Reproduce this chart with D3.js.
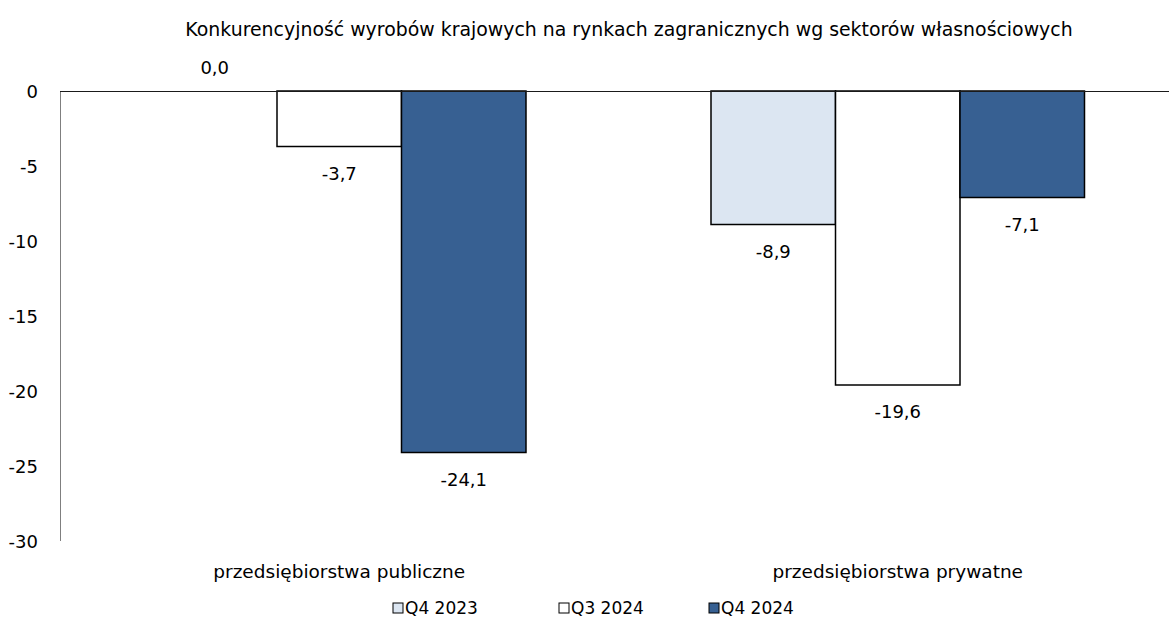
<!DOCTYPE html>
<html>
<head>
<meta charset="utf-8">
<script src="https://cdn.jsdelivr.net/npm/d3@7"></script>
<style>
  html, body { margin: 0; padding: 0; background: #fff; }
  svg { display: block; font-family: "DejaVu Sans", sans-serif; }
</style>
</head>
<body>
<svg id="chart" width="1169" height="622"></svg>
<script>
// Chart data
const title = "Konkurencyjność wyrobów krajowych na rynkach zagranicznych wg sektorów własnościowych";
const categories = ["przedsiębiorstwa publiczne", "przedsiębiorstwa prywatne"];
const seriesNames = ["Q4 2023", "Q3 2024", "Q4 2024"];
const seriesColors = ["#dce6f2", "#ffffff", "#376092"];
const q4_2023 = [0.0, -8.9];
const q3_2024 = [-3.7, -19.6];
const q4_2024 = [-24.1, -7.1];
const yTicks = [0, -5, -10, -15, -20, -25, -30];

const seriesValues = [q4_2023, q3_2024, q4_2024];

const svg = d3.select("#chart");
const fmt = v => v.toFixed(1).replace(".", ",");

const y = d3.scaleLinear().domain([-30, 0]).range([541, 91]);
const x0 = d3.scaleBand().domain(categories).range([60, 1177]).padding(0);
const x1 = d3.scaleBand().domain(seriesNames).range([0, x0.bandwidth()])
  .paddingInner(0).paddingOuter(0.743);

// Title
svg.append("text")
  .attr("x", 629).attr("y", 36)
  .attr("text-anchor", "middle")
  .attr("font-size", 18.9)
  .attr("fill", "#000")
  .text(title);

// Y axis (labels only, plus a grey spine)
const yAxis = d3.axisLeft(y).tickValues(yTicks).tickSize(0).tickPadding(0)
  .tickFormat(d => String(d));
const gy = svg.append("g").attr("transform", "translate(38,0)").call(yAxis);
gy.select(".domain").remove();
gy.selectAll("text").attr("font-size", 18).attr("fill", "#000")
  .attr("font-family", "DejaVu Sans, sans-serif").attr("dy", "0.35em");

svg.append("line")
  .attr("x1", 60.5).attr("x2", 60.5)
  .attr("y1", y(0)).attr("y2", y(-30))
  .attr("stroke", "#7f7f7f").attr("stroke-width", 1);

// Bars
const groups = svg.append("g").selectAll("g")
  .data(categories)
  .join("g")
  .attr("transform", c => `translate(${x0(c)},0)`);

groups.selectAll("rect")
  .data((c, i) => seriesNames.map((s, j) => ({ s, j, v: seriesValues[j][i] })))
  .join("rect")
  .attr("x", d => x1(d.s))
  .attr("width", x1.bandwidth())
  .attr("y", d => y(Math.max(0, d.v)))
  .attr("height", d => Math.abs(y(d.v) - y(0)))
  .attr("fill", d => seriesColors[d.j])
  .attr("stroke", "#000")
  .attr("stroke-width", 1.5);

// Value labels
groups.selectAll("text.val")
  .data((c, i) => seriesNames.map((s, j) => ({ s, j, v: seriesValues[j][i] })))
  .join("text")
  .attr("class", "val")
  .attr("x", d => x1(d.s) + x1.bandwidth() / 2)
  .attr("y", d => d.v < 0 ? y(d.v) + 27 : y(d.v) - 23)
  .attr("dy", "0.35em")
  .attr("text-anchor", "middle")
  .attr("font-size", 18)
  .attr("fill", "#000")
  .text(d => fmt(d.v));

// Zero line
svg.append("line")
  .attr("x1", 60).attr("x2", 1169)
  .attr("y1", y(0) + 0.5).attr("y2", y(0) + 0.5)
  .attr("stroke", "#1a1a1a").attr("stroke-width", 1);

// Category labels
svg.append("g").selectAll("text")
  .data(categories)
  .join("text")
  .attr("x", c => x0(c) + x0.bandwidth() / 2)
  .attr("y", 572)
  .attr("dy", "0.35em")
  .attr("text-anchor", "middle")
  .attr("font-size", 18.5)
  .attr("fill", "#000")
  .text(c => c);

// Legend
const legendX = [393, 559, 709];
const legend = svg.append("g").selectAll("g")
  .data(seriesNames)
  .join("g")
  .attr("transform", (d, i) => `translate(${legendX[i]},603)`);
legend.append("rect")
  .attr("width", 10).attr("height", 10)
  .attr("fill", (d, i) => seriesColors[i])
  .attr("stroke", "#000").attr("stroke-width", 1);
legend.append("text")
  .attr("x", 12).attr("y", 5).attr("dy", "0.35em")
  .attr("font-size", 17)
  .attr("fill", "#000")
  .text(d => d);
</script>
</body>
</html>
